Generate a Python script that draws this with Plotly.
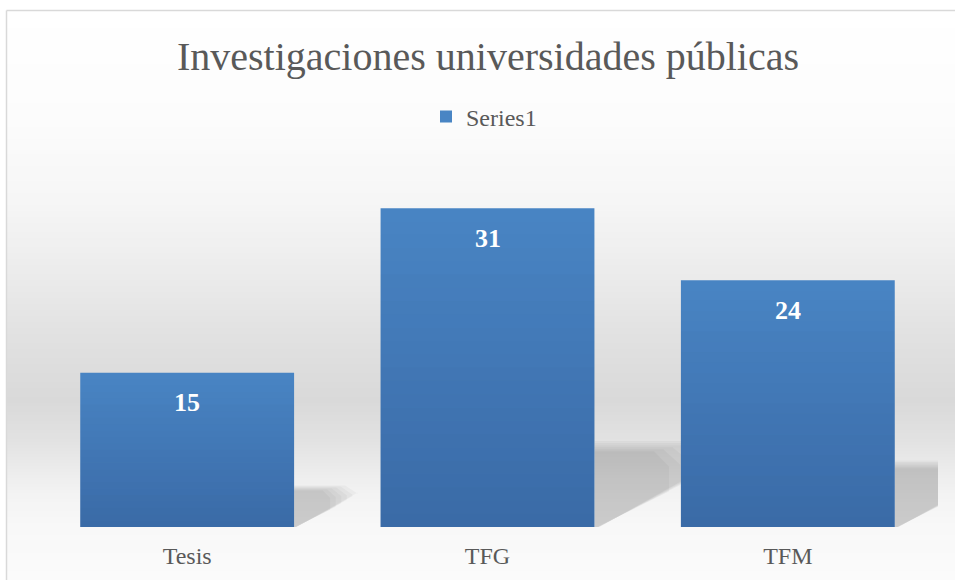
import plotly.graph_objects as go

# ---- data ----
categories = ["Tesis", "TFG", "TFM"]
values = [15, 31, 24]
series_name = "Series1"
title_text = "Investigaciones universidades públicas"

# ---- layout geometry (pixels) ----
W, H = 955, 580
ML, MR, MT, MB = 37, 17, 167, 53
PW = W - ML - MR
PH = H - MT - MB
YMAX = 35

def px_x(px):
    return (px - ML) / PW

def px_y(py):
    return (H - MB - py) / PH

FONT = "Liberation Serif"
TXT = "#595959"
BAR = "#4985c4"

shapes = []

# background gradient of chart area (decorative)
stops = [(10, 255), (120, 252), (200, 246), (270, 236), (330, 226), (400, 217),
         (440, 226), (470, 236), (500, 244), (527, 248), (580, 251)]

def grey(y):
    for (y0, c0), (y1, c1) in zip(stops, stops[1:]):
        if y0 <= y <= y1:
            t = (y - y0) / (y1 - y0)
            return round(c0 + (c1 - c0) * t)
    return stops[-1][1]

step = 3
y = 10
while y < H:
    g = grey(y + step / 2)
    shapes.append(dict(type="rect", xref="paper", yref="paper", layer="below",
                       x0=px_x(7), x1=px_x(W + 5), y0=px_y(y + step + 0.5), y1=px_y(y),
                       fillcolor=f"rgb({g},{g},{g})", line=dict(width=0)))
    y += step

# chart frame border
shapes.append(dict(type="line", xref="paper", yref="paper", layer="below",
                   x0=px_x(6.5), x1=px_x(W + 5), y0=px_y(10.5), y1=px_y(10.5),
                   line=dict(color="#d9d9d9", width=1.5)))
shapes.append(dict(type="line", xref="paper", yref="paper", layer="below",
                   x0=px_x(6.5), x1=px_x(6.5), y0=px_y(10.5), y1=px_y(H + 5),
                   line=dict(color="#d9d9d9", width=1.5)))

# soft cast shadows to the right of bars (decorative, derived from values)
BW = 0.712
unit_px = PH / YMAX
cat_px = PW / len(categories)
for i, v in enumerate(values):
    R = i + BW / 2
    vpx = v * unit_px
    hpx = 0.26 * vpx
    wpx = 0.36 * vpx
    for s in [1.15, 1.05, 0.95, 0.85, 0.75, 0.65]:
        h = hpx * (0.75 + 0.25 * s)
        w = wpx * s
        pts = [(0, 0), (0, h), (0.8 * w, h), (w, 0.8 * h), (w, 0.72 * h * s), (0.04 * w, 0)]
        path = "M " + " L ".join(
            f"{R + px_ / cat_px},{py_ / unit_px}" for px_, py_ in pts) + " Z"
        shapes.append(dict(type="path", xref="x", yref="y", layer="below", path=path,
                           fillcolor="rgba(0,0,0,0.032)", line=dict(width=0)))

# vertical shading of each bar, top lighter -> bottom darker (decorative)
NS = 24
for i, v in enumerate(values):
    for k in range(NS):
        a = 0.2 * (k + 0.5) / NS
        shapes.append(dict(type="rect", xref="x", yref="y", layer="above",
                           x0=i - BW / 2, x1=i + BW / 2,
                           y0=v * (1 - (k + 1) / NS), y1=v * (1 - k / NS),
                           fillcolor=f"rgba(0,0,50,{a:.3f})", line=dict(width=0)))

fig = go.Figure()
fig.add_trace(go.Bar(
    x=categories, y=values, name=series_name, width=BW,
    marker=dict(color=BAR, line=dict(width=0)),
    showlegend=True,
))

annotations = []
for c, v in zip(categories, values):
    annotations.append(dict(x=c, y=v, xref="x", yref="y", text=f"<b>{v}</b>", showarrow=False,
                            yshift=-30, font=dict(family=FONT, size=26, color="white"),
                            xanchor="center", yanchor="middle"))

fig.update_layout(
    width=W, height=H,
    margin=dict(l=ML, r=MR, t=MT, b=MB, autoexpand=False),
    paper_bgcolor="white",
    plot_bgcolor="rgba(0,0,0,0)",
    shapes=shapes,
    annotations=annotations,
    title=dict(text=title_text, x=488 / W, xref="container", xanchor="center",
               y=1 - 56 / H, yref="container", yanchor="middle",
               font=dict(family=FONT, size=40, color=TXT)),
    legend=dict(orientation="h", x=px_x(426), xanchor="left", y=px_y(117), yanchor="middle",
                font=dict(family=FONT, size=24, color=TXT), bgcolor="rgba(0,0,0,0)",
                itemwidth=30),
    xaxis=dict(range=[-0.5, len(categories) - 0.5], showgrid=False, zeroline=False,
               showline=False, ticks="", ticklabelstandoff=12,
               tickfont=dict(family=FONT, size=24, color=TXT)),
    yaxis=dict(range=[0, YMAX], showgrid=False, zeroline=False, showline=False,
               showticklabels=False, ticks=""),
    bargap=0.288,
)

fig.write_html("out.html", config={"displayModeBar": False},
               post_script="document.body.style.margin='0';document.body.style.overflow='hidden';")
